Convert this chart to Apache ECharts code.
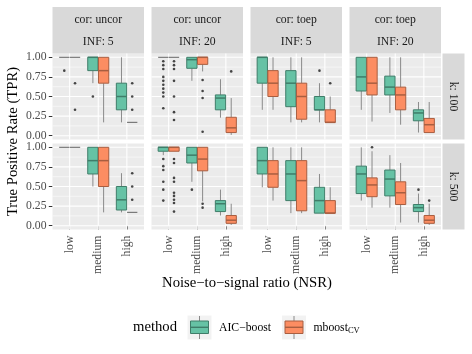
<!DOCTYPE html>
<html><head><meta charset="utf-8">
<script src="https://cdn.jsdelivr.net/npm/echarts@6/dist/echarts.min.js"></script>
<style>html,body{margin:0;padding:0;background:#fff}#c{width:472px;height:354px}</style>
</head><body><div id="c"></div>
<script>
// ---------- data ----------
const categories = ['low', 'medium', 'high'];
const methods = ['AIC−boost', 'mboost'];
const methodSub = ['', 'CV'];
const corLabels = ['cor: uncor', 'cor: uncor', 'cor: toep', 'cor: toep'];
const infLabels = ['INF: 5', 'INF: 20', 'INF: 5', 'INF: 20'];
const kLabels = ['k: 100', 'k: 500'];
const yTicks = [0, 0.25, 0.5, 0.75, 1];
const yMinor = [0.125, 0.375, 0.625, 0.875];
const xTicks = [1, 2, 3];

// box stats per category: [min, q1, median, q3, max]
// k: 100
const aic_k100_uncor_inf5 = [[1,1,1,1,1],[0.67,0.83,1,1,1],[0.17,0.33,0.5,0.67,1]];
const mb_k100_uncor_inf5  = [[1,1,1,1,1],[0.17,0.67,0.83,1,1],[0.17,0.17,0.17,0.17,0.17]];
const aicOut_k100_uncor_inf5 = [[0.83],[0.5],[]];
const mbOut_k100_uncor_inf5  = [[0.67,0.33],[],[0.67,0.5,0.33]];

const aic_k100_uncor_inf20 = [[1,1,1,1,1],[0.7,0.86,0.97,1,1],[0.23,0.33,0.48,0.52,0.72]];
const mb_k100_uncor_inf20  = [[1,1,1,1,1],[0.82,0.91,1,1,1],[0.01,0.04,0.1,0.235,0.48]];
const aicOut_k100_uncor_inf20 = [[0.95,0.9,0.85,0.75,0.7,0.65,0.6,0.55,0.5,0.35],[],[]];
const mbOut_k100_uncor_inf20  = [[0.95,0.9,0.85,0.7,0.5,0.3,0.2],[0.71,0.57,0.48,0.05],[0.82]];

const aic_k100_toep_inf5 = [[0.33,0.67,1,1,1],[0.17,0.37,0.67,0.83,1],[0.17,0.33,0.33,0.5,0.67]];
const mb_k100_toep_inf5  = [[0.33,0.5,0.67,0.83,1],[0.17,0.21,0.5,0.67,1],[0.17,0.17,0.17,0.33,0.5]];
const aicOut_k100_toep_inf5 = [[],[],[0.83]];
const mbOut_k100_toep_inf5  = [[],[],[0.67]];

const aic_k100_toep_inf20 = [[0.33,0.57,0.75,1,1],[0.29,0.52,0.62,0.76,1],[0.04,0.19,0.29,0.33,0.43]];
const mb_k100_toep_inf20  = [[0.18,0.52,0.67,1,1],[0.14,0.33,0.52,0.62,1],[0.04,0.04,0.14,0.22,0.43]];
const aicOut_k100_toep_inf20 = [[],[],[]];
const mbOut_k100_toep_inf20  = [[],[],[]];

// k: 500
const aic_k500_uncor_inf5 = [[1,1,1,1,1],[0.5,0.66,0.83,1,1],[0.17,0.2,0.33,0.5,0.67]];
const mb_k500_uncor_inf5  = [[1,1,1,1,1],[0.17,0.5,0.83,1,1],[0.17,0.17,0.17,0.17,0.17]];
const aicOut_k500_uncor_inf5 = [[],[],[]];
const mbOut_k500_uncor_inf5  = [[],[],[0.67,0.5,0.33]];

const aic_k500_uncor_inf20 = [[0.9,0.95,1,1,1],[0.56,0.8,0.9,1,1],[0.13,0.18,0.28,0.32,0.46]];
const mb_k500_uncor_inf20  = [[0.95,0.95,1,1,1],[0.31,0.7,0.85,1,1],[0.01,0.03,0.07,0.13,0.28]];
const aicOut_k500_uncor_inf20 = [[0.85,0.76,0.71,0.56,0.46,0.32],[0.46],[]];
const mbOut_k500_uncor_inf20  = [[0.85,0.8,0.61,0.56,0.42,0.38,0.33,0.29,0.18],[0.28,0.23],[]];

const aic_k500_toep_inf5 = [[0.49,0.66,0.83,1,1],[0.16,0.32,0.66,0.83,1],[0.16,0.16,0.32,0.49,0.66]];
const mb_k500_toep_inf5  = [[0.32,0.49,0.66,0.83,1],[0.16,0.19,0.575,0.83,1],[0.16,0.16,0.16,0.32,0.49]];
const aicOut_k500_toep_inf5 = [[],[],[]];
const mbOut_k500_toep_inf5  = [[],[],[]];

const aic_k500_toep_inf20 = [[0.32,0.41,0.66,0.76,1],[0.23,0.38,0.595,0.71,0.9],[0.04,0.18,0.23,0.27,0.41]];
const mb_k500_toep_inf20  = [[0.23,0.37,0.52,0.61,0.95],[0.04,0.27,0.42,0.56,0.8],[0.01,0.03,0.07,0.13,0.28]];
const aicOut_k500_toep_inf20 = [[],[],[0.46]];
const mbOut_k500_toep_inf20  = [[1.0],[],[0.32]];

const panels = [
  [aic_k100_uncor_inf5, mb_k100_uncor_inf5, aicOut_k100_uncor_inf5, mbOut_k100_uncor_inf5],
  [aic_k100_uncor_inf20, mb_k100_uncor_inf20, aicOut_k100_uncor_inf20, mbOut_k100_uncor_inf20],
  [aic_k100_toep_inf5, mb_k100_toep_inf5, aicOut_k100_toep_inf5, mbOut_k100_toep_inf5],
  [aic_k100_toep_inf20, mb_k100_toep_inf20, aicOut_k100_toep_inf20, mbOut_k100_toep_inf20],
  [aic_k500_uncor_inf5, mb_k500_uncor_inf5, aicOut_k500_uncor_inf5, mbOut_k500_uncor_inf5],
  [aic_k500_uncor_inf20, mb_k500_uncor_inf20, aicOut_k500_uncor_inf20, mbOut_k500_uncor_inf20],
  [aic_k500_toep_inf5, mb_k500_toep_inf5, aicOut_k500_toep_inf5, mbOut_k500_toep_inf5],
  [aic_k500_toep_inf20, mb_k500_toep_inf20, aicOut_k500_toep_inf20, mbOut_k500_toep_inf20]
];

// ---------- style / layout ----------
const FONT = '"Liberation Serif", "DejaVu Serif", serif';
const FILLS = ['#66C2A5', '#FC8D62'];
const STROKES = ['#3F7D69', '#A85E40'];
const WHISK = '#8A8A8A';
const FLAT = '#6E6E6E';
const colLeft = [52.5, 151.5, 250.5, 349.5];
const PW = 91.5;
const rowTop = [53.4, 143.4];
const PH = 86.2;
const DODGE = 0.1875, HALF = 0.18;

const chart = echarts.init(document.getElementById('c'), null, {renderer: 'canvas'});

function gridRender(params, api) {
  const orient = api.value(0), v = api.value(1), major = api.value(2);
  let p1, p2;
  if (orient === 0) { p1 = api.coord([0.4, v]); p2 = api.coord([3.6, v]); }
  else { p1 = api.coord([v, -0.05]); p2 = api.coord([v, 1.05]); }
  return {type: 'line', shape: {x1: p1[0], y1: p1[1], x2: p2[0], y2: p2[1]},
    style: {stroke: '#FFFFFF', lineWidth: major ? 1.1 : 0.55}};
}
function boxRender(m) {
  return function (params, api) {
    const x = api.value(0);
    const vmin = api.value(1), q1 = api.value(2), med = api.value(3), q3 = api.value(4), vmax = api.value(5);
    const a = api.coord([x, vmax]), b = api.coord([x, q3]), c = api.coord([x, q1]), d = api.coord([x, vmin]);
    const tl = api.coord([x - HALF, q3]), br = api.coord([x + HALF, q1]);
    const ml = api.coord([x - HALF, med]), mr = api.coord([x + HALF, med]);
    if (q3 - q1 < 1e-9) {
      return {type: 'group', children: [
        {type: 'line', shape: {x1: a[0], y1: a[1], x2: b[0], y2: b[1]}, style: {stroke: WHISK, lineWidth: 1}},
        {type: 'line', shape: {x1: c[0], y1: c[1], x2: d[0], y2: d[1]}, style: {stroke: WHISK, lineWidth: 1}},
        {type: 'line', shape: {x1: ml[0], y1: ml[1], x2: mr[0], y2: mr[1]}, style: {stroke: FLAT, lineWidth: 1.1}}
      ]};
    }
    return {type: 'group', children: [
      {type: 'line', shape: {x1: a[0], y1: a[1], x2: b[0], y2: b[1]}, style: {stroke: WHISK, lineWidth: 1}},
      {type: 'line', shape: {x1: c[0], y1: c[1], x2: d[0], y2: d[1]}, style: {stroke: WHISK, lineWidth: 1}},
      {type: 'rect', shape: {x: tl[0], y: tl[1], width: br[0] - tl[0], height: br[1] - tl[1]},
        style: {fill: FILLS[m], stroke: STROKES[m], lineWidth: 1}},
      {type: 'line', shape: {x1: ml[0], y1: ml[1], x2: mr[0], y2: mr[1]}, style: {stroke: STROKES[m], lineWidth: 1.5}}
    ]};
  };
}

const grids = [], xAxes = [], yAxes = [], series = [];
const gridData = [];
yTicks.forEach(v => gridData.push([0, v, 1]));
yMinor.forEach(v => gridData.push([0, v, 0]));
xTicks.forEach(v => gridData.push([1, v, 1]));

panels.forEach((p, i) => {
  const r = Math.floor(i / 4), c = i % 4;
  grids.push({left: colLeft[c], top: rowTop[r], width: PW, height: PH, show: true,
    backgroundColor: '#EBEBEB', borderWidth: 0, containLabel: false});
  xAxes.push({type: 'value', gridIndex: i, min: 0.4, max: 3.6,
    axisLine: {show: false}, splitLine: {show: false},
    axisTick: {show: r === 1, customValues: xTicks, length: 3.7, lineStyle: {color: '#333333', width: 1}},
    axisLabel: {show: r === 1, customValues: xTicks, rotate: 90, margin: 6,
      formatter: v => categories[Math.round(v) - 1] || '',
      fontFamily: FONT, fontSize: 11.7, color: '#4D4D4D'}});
  yAxes.push({type: 'value', gridIndex: i, min: -0.05, max: 1.05,
    axisLine: {show: false}, splitLine: {show: false},
    axisTick: {show: c === 0, customValues: yTicks, length: 3.7, lineStyle: {color: '#333333', width: 1}},
    axisLabel: {show: c === 0, customValues: yTicks, margin: 6,
      formatter: v => v.toFixed(2), fontFamily: FONT, fontSize: 11.7, color: '#4D4D4D'}});
  series.push({type: 'custom', xAxisIndex: i, yAxisIndex: i, silent: true, z: 1,
    renderItem: gridRender, data: gridData, encode: {x: -1, y: -1}});
  for (let m = 0; m < 2; m++) {
    const stats = p[m], outs = p[2 + m];
    const off = m === 0 ? -DODGE : DODGE;
    series.push({type: 'custom', name: methods[m], xAxisIndex: i, yAxisIndex: i, z: 3, silent: true,
      renderItem: boxRender(m), encode: {x: 0, y: [1, 2, 3, 4, 5]},
      data: stats.map((s, k) => [k + 1 + off].concat(s))});
    const pts = [];
    outs.forEach((arr, k) => arr.forEach(v => pts.push([k + 1 + off, v])));
    series.push({type: 'scatter', xAxisIndex: i, yAxisIndex: i, z: 4, silent: true,
      symbol: 'circle', symbolSize: 2.6, itemStyle: {color: '#1A1A1A'}, data: pts});
  }
});

// strips, titles, legend (graphic)
const graphic = [];
corLabels.forEach((t, c) => {
  graphic.push({type: 'rect', shape: {x: colLeft[c], y: 7, width: PW, height: 46.4}, style: {fill: '#D9D9D9'}, silent: true});
  graphic.push({type: 'text', x: colLeft[c] + PW / 2, y: 19.5, style: {text: t, align: 'center', verticalAlign: 'middle',
    font: '11.7px ' + FONT, fill: '#1A1A1A'}});
  graphic.push({type: 'text', x: colLeft[c] + PW / 2, y: 42.3, style: {text: infLabels[c], align: 'center', verticalAlign: 'middle',
    font: '11.7px ' + FONT, fill: '#1A1A1A'}});
});
kLabels.forEach((t, r) => {
  graphic.push({type: 'rect', shape: {x: 442.5, y: rowTop[r], width: 22, height: PH}, style: {fill: '#D9D9D9'}, silent: true});
  graphic.push({type: 'text', x: 453.5, y: rowTop[r] + PH / 2, rotation: -Math.PI / 2,
    style: {text: t, align: 'center', verticalAlign: 'middle', font: '11.7px ' + FONT, fill: '#1A1A1A'}});
});
graphic.push({type: 'text', x: 13, y: 141.5, rotation: Math.PI / 2,
  style: {text: 'True Positive Rate (TPR)', align: 'center', verticalAlign: 'middle', font: '14.7px ' + FONT, fill: '#000'}});
graphic.push({type: 'text', x: 247, y: 283.5,
  style: {text: 'Noise−to−signal ratio (NSR)', align: 'center', verticalAlign: 'middle', font: '14.7px ' + FONT, fill: '#000'}});
// legend
graphic.push({type: 'text', x: 133, y: 327.5, style: {text: 'method', align: 'left', verticalAlign: 'middle', font: '14.7px ' + FONT, fill: '#000'}});
const keyX = [187.5, 282];
const labX = [219, 313.5];
for (let m = 0; m < 2; m++) {
  const kx = keyX[m];
  graphic.push({type: 'rect', shape: {x: kx, y: 315.5, width: 24, height: 24}, style: {fill: '#F2F2F2'}, silent: true});
  graphic.push({type: 'line', shape: {x1: kx + 12, y1: 316, x2: kx + 12, y2: 339}, style: {stroke: WHISK, lineWidth: 1}, silent: true});
  graphic.push({type: 'rect', shape: {x: kx + 3, y: 321, width: 18, height: 12.5}, style: {fill: FILLS[m], stroke: STROKES[m], lineWidth: 1}, silent: true});
  graphic.push({type: 'line', shape: {x1: kx + 3, y1: 327.3, x2: kx + 21, y2: 327.3}, style: {stroke: STROKES[m], lineWidth: 1.4}, silent: true});
  const txt = methodSub[m] ? '{a|' + methods[m] + '}{b|' + methodSub[m] + '}' : '{a|' + methods[m] + '}';
  graphic.push({type: 'text', x: labX[m], y: 327.5, style: {text: txt, align: 'left', verticalAlign: 'middle', fill: '#000',
    rich: {a: {fontFamily: FONT, fontSize: 11.7, lineHeight: 16, verticalAlign: 'middle', fill: '#000'},
           b: {fontFamily: FONT, fontSize: 8.5, lineHeight: 10, verticalAlign: 'bottom', fill: '#000'}}}});
}

chart.setOption({
  animation: false,
  backgroundColor: '#FFFFFF',
  grid: grids, xAxis: xAxes, yAxis: yAxes, series: series, graphic: graphic
});
</script>
</body></html>
